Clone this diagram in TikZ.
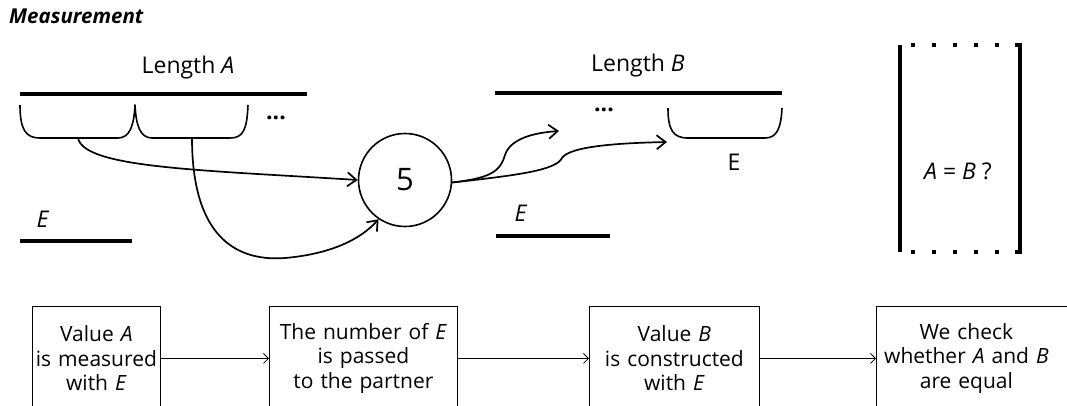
\documentclass[tikz,border=0pt]{standalone}
\usepackage{fontspec}
\setmainfont{Open Sans}
\usetikzlibrary{arrows.meta}
\tikzset{
  label/.style={font=\fontsize{23}{24}\selectfont},
  bar/.style={line width=4pt},
  cup/.style={line width=1.6pt, line join=round},
  link/.style={-{Straight Barb[length=9pt,width=14pt]}, line width=1.7pt},
  flow/.style={-{Straight Barb[length=5pt,width=10pt]}, line width=0.8pt},
  stepbox/.style={draw, line width=0.8pt, anchor=north west, minimum height=104pt,
    inner xsep=2pt, align=center, font=\fontsize{21}{24.5}\selectfont},
  dotline/.style={line width=4pt, dash pattern=on 4pt off 17pt},
}

\begin{document}
\begin{tikzpicture}[x=1pt, y=-1pt]
  \useasboundingbox (0,0) rectangle (1067,405);
  \clip (0,0) rectangle (1067,405);

  % Title
  \node[anchor=west, inner sep=0pt, font=\fontsize{20.5}{22}\selectfont\bfseries\itshape] (title) at (9,16) {Measurement};

  % Length A, measured with two units
  \node[label] (lenA) at (188,68) {Length \textit{A}};
  \draw[bar] (20,94) -- (307,94);
  \draw[cup] (20,105) .. controls (20,130) and (26,138) .. (40,138) -- (118,138)
    .. controls (130,138) and (134,125) .. (135,105)
    .. controls (136,125) and (140,138) .. (152,138) -- (230,138)
    .. controls (243,138) and (247,130) .. (248,105);
  \node[label] (dotsA) at (276,118) {\textbf{...}};
  \coordinate (cupA1) at (78,138);
  \coordinate (cupA2) at (192,138);

  % Unit E (left)
  \node[label] (eA) at (43,219) {\textit{E}};
  \draw[bar] (20,241) -- (132,241);

  % Number passed on
  \node[circle, draw, line width=1.6pt, minimum size=93pt, font=\fontsize{31}{31}\selectfont] (five) at (405,180) {5};

  % Length B, built with the unit
  \node[label] (lenB) at (638,66) {Length \textit{B}};
  \draw[bar] (495,93) -- (782,93);
  \node[label] (dotsB) at (604,110) {\textbf{...}};
  \draw[cup] (668,108) .. controls (668,130) and (673,138) .. (688,138) -- (765,138)
    .. controls (777,138) and (781,128) .. (782,108);
  \node[label] (eCup) at (734,162) {E};
  \coordinate (tipB1) at (559,131);
  \coordinate (tipB2) at (667,142);

  % Unit E (right)
  \node[label] (eB) at (521,213) {\textit{E}};
  \draw[bar] (496,236) -- (610,236);

  % Arrows to and from the number
  \draw[link] (cupA1) .. controls (84,168) and (200,170) .. (five.west);
  \draw[link] (cupA2) .. controls (192,232) and (232,262) .. (285,258)
    .. controls (330,254) and (360,240) .. (five.236);
  \draw[link] (five.-3) .. controls (490,178) and (500,172) .. (505,155)
    .. controls (510,140) and (530,133) .. (tipB1);
  \draw[link] (five.-3) .. controls (520,175) and (556,170) .. (562,158)
    .. controls (570,146) and (620,143) .. (tipB2);

  % Comparison bracket
  \draw[bar] (900,45) -- (900,252);
  \draw[bar] (1015,45) -- (1020,45) -- (1020,252) -- (1015,252);
  \draw[dotline] (911,45) -- (1003,45);
  \draw[dotline] (911,252) -- (1003,252);
  \node[label] (eq) at (958,171) {\textit{A} = \textit{B} ?};

  % Steps
  \node[stepbox, text width=124pt] (s1) at (32,306) {Value \textit{A}\\is measured\\with \textit{E}};
  \node[stepbox, text width=184pt] (s2) at (269,306) {The number of \textit{E}\\is passed\\to the partner};
  \node[stepbox, text width=166pt] (s3) at (589,306) {Value \textit{B}\\is constructed\\with \textit{E}};
  \node[stepbox, text width=200pt, align=left] (s4) at (876,306)
    {\parbox{176pt}{\centering We check\\whether \textit{A} and \textit{B}\\are equal}};
  \draw[flow] (s1) -- (s2);
  \draw[flow] (s2) -- (s3);
  \draw[flow] (s3) -- (s4);
\end{tikzpicture}
\end{document}
